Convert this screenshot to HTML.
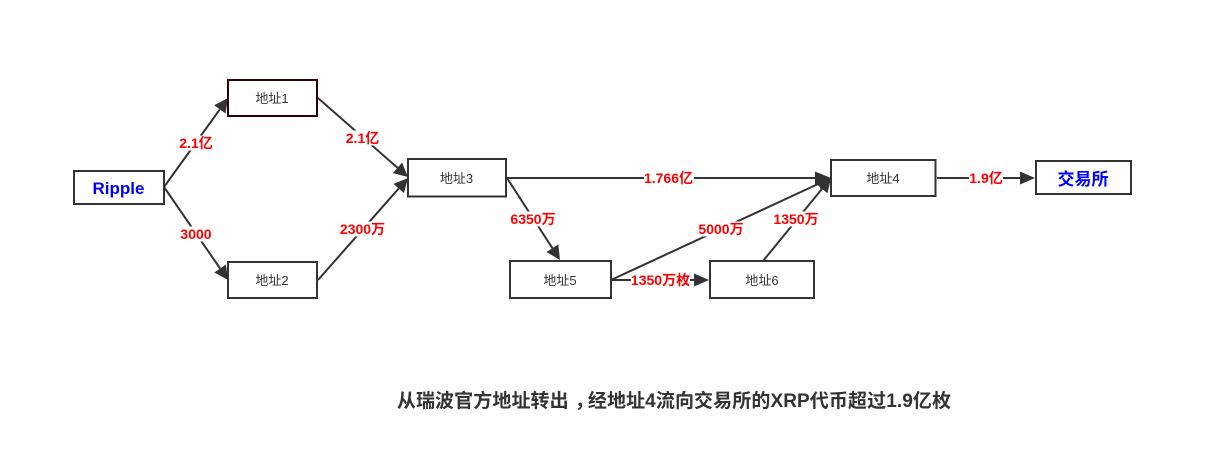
<!DOCTYPE html>
<html><head><meta charset="utf-8">
<style>
html,body{margin:0;padding:0;background:#fff;width:1216px;height:469px;overflow:hidden}
svg{display:block}
text{font-family:"Liberation Sans","Noto Sans CJK SC",sans-serif;text-anchor:middle}
.n{font-size:13px;fill:#333}
.l{font-size:14px;font-weight:bold;fill:#f00}
.b{font-size:17px;font-weight:bold;fill:#00f}
.e{stroke:#333;stroke-width:2;fill:none}
.a{fill:#333;stroke:none}
.r{fill:#fff;stroke:#333;stroke-width:2}
.w{fill:#fff;stroke:none}
</style></head><body>
<svg width="1216" height="469" viewBox="0 0 1216 469" xmlns="http://www.w3.org/2000/svg">
<path class="e" d="M164 187L219.800 109.400"/><polygon class="a" points="228,98 225.500,113.500 214.100,105.300"/>
<path class="e" d="M164 187L220.100 268.500"/><polygon class="a" points="228,280 225.900,264.500 214.300,272.500"/>
<path class="e" d="M318 98L397.500 167.800"/><polygon class="a" points="408,177 402.100,162.500 392.900,173.100"/>
<path class="e" d="M318 280L398.700 188.500"/><polygon class="a" points="408,178 403.950,193.100 393.450,183.900"/>
<path class="e" d="M507 178L816 178"/><polygon class="a" points="831,178 815,171.500 815,184.500"/>
<path class="e" d="M507 178L552.400 248.200"/><polygon class="a" points="560,260 558.300,244.400 546.500,252"/>
<path class="e" d="M611 280L818.300 183.900"/><polygon class="a" points="831,178 821.200,190.200 815.400,177.600"/>
<path class="e" d="M611 280L695 280"/><polygon class="a" points="709,280 694,273.500 694,286.500"/>
<path class="e" d="M763 261L822.100 188.800"/><polygon class="a" points="831,178 827.500,193.200 816.700,184.400"/>
<path class="e" d="M937 178L1021 178"/><polygon class="a" points="1035,178 1020,171.500 1020,184.500"/>

<rect class="r" x="74" y="171" width="90" height="33"/>
<rect x="228" y="80" width="89" height="36" fill="#fff" stroke="#300" stroke-width="2"/>
<rect class="r" x="228" y="262" width="89" height="36"/>
<rect class="r" x="408" y="159" width="98" height="37.500"/>
<rect class="r" x="510" y="261" width="101" height="37"/>
<rect class="r" x="710" y="261" width="104" height="37"/>
<rect class="r" x="831" y="160" width="104.500" height="36"/>
<rect class="r" x="1036" y="161" width="95" height="33"/>

<text class="b" x="118.500" y="194">Ripple</text>
<text class="n" x="272" y="103">地址1</text>
<text class="n" x="272" y="285">地址2</text>
<text class="n" x="456.500" y="183">地址3</text>
<text class="n" x="883" y="183">地址4</text>
<text class="n" x="560" y="285">地址5</text>
<text class="n" x="762" y="285">地址6</text>
<text class="b" x="1083" y="185">交易所</text>

<rect class="w" x="178.500" y="135.500" width="35" height="15"/><text class="l" x="196" y="148">2.1亿</text>
<rect class="w" x="179" y="226.500" width="34" height="15"/><text class="l" x="196" y="239">3000</text>
<rect class="w" x="345" y="130.500" width="35" height="15"/><text class="l" x="362.500" y="143">2.1亿</text>
<rect class="w" x="339" y="221.500" width="47" height="15"/><text class="l" x="362.500" y="234">2300万</text>
<rect class="w" x="644" y="170.500" width="50" height="15"/><text class="l" x="668.500" y="183">1.766亿</text>
<rect class="w" x="510" y="211.500" width="46" height="15"/><text class="l" x="533" y="224">6350万</text>
<rect class="w" x="698" y="221.500" width="46" height="15"/><text class="l" x="721" y="234">5000万</text>
<rect class="w" x="631" y="272.500" width="59" height="15"/><text class="l" x="660.500" y="285">1350万枚</text>
<rect class="w" x="773" y="211.500" width="46" height="15"/><text class="l" x="796" y="224">1350万</text>
<rect class="w" x="969" y="170.500" width="34" height="15"/><text class="l" x="986" y="183">1.9亿</text>

<text x="674" y="407" style="font-size:19px;font-weight:bold;fill:#333;letter-spacing:.1px">从瑞波官方地址转出<tspan dx="6">，</tspan><tspan dx="-6">经地址4流向交易所的XRP代币超过1.9亿枚</tspan></text>
</svg>
</body></html>
